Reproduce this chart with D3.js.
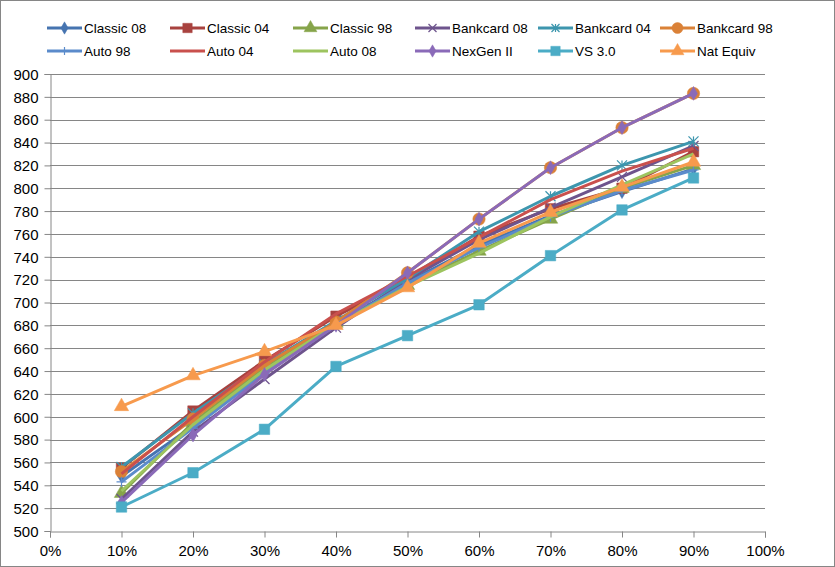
<!DOCTYPE html>
<html><head><meta charset="utf-8">
<script src="https://cdn.jsdelivr.net/npm/d3@7"></script>
<style>body{margin:0;background:#fff}svg{display:block}text{font-family:"Liberation Sans",Arial,sans-serif}</style>
</head><body><svg id="c" width="835" height="567"></svg>
<script>
const xValues = [0.1,0.2,0.3,0.4,0.5,0.6,0.7,0.8,0.9];
const xTicks = [0,0.1,0.2,0.3,0.4,0.5,0.6,0.7,0.8,0.9,1.0];
const yTicks = d3.range(500, 901, 20);
const seriesNames = ["Classic 08","Classic 04","Classic 98","Bankcard 08","Bankcard 04","Bankcard 98","Auto 98","Auto 04","Auto 08","NexGen II","VS 3.0","Nat Equiv"];
const classic08  = [548,592,640,681,718,750,776,797,817];
const classic04  = [555,605,649,688,720,758,782,800,832];
const classic98  = [533,595,643,682,715,745,773,800,820];
const bankcard08 = [528,587,633,678,720,755,783,810,837];
const bankcard04 = [556,603,646,684,721,762,793,820,841];
const bankcard98 = [552,598,645,683,726,773,818,853,883];
const auto98     = [543,590,638,680,717,748,775,798,816];
const auto04     = [550,600,648,690,723,757,790,815,835];
const auto08     = [535,593,641,681,714,743,775,803,830];
const nexgen2    = [525,584,637,680,726,773,818,853,883];
const vs30       = [521,551,589,644,671,698,741,781,809];
const natEquiv   = [609,636,657,680,713,752,779,801,823];
const seriesValues = [classic08,classic04,classic98,bankcard08,bankcard04,bankcard98,auto98,auto04,auto08,nexgen2,vs30,natEquiv];
const colors = ["#4674B0","#A8423F","#86A44A","#6E548D","#3D96AE","#DA8137","#5B8BCB","#C9504D","#9DC45F","#8A6AB8","#4BACC6","#F79A4D"];
const markers = ["diamond","square","triangle","x","asterisk","circle","plus","none","none","diamond","square","triangle"];

const svg = d3.select("#c");
const x = d3.scaleLinear().domain([0,1]).range([50,765]);
const y = d3.scaleLinear().domain([500,900]).range([531,74]);

svg.append("rect").attr("x",0.5).attr("y",0.5).attr("width",834).attr("height",566).attr("fill","#fff").attr("stroke","#868686");

svg.append("g").selectAll("line").data(yTicks.filter(d=>d>500)).join("line")
  .attr("x1",50).attr("x2",765).attr("y1",d=>Math.round(y(d))+0.5).attr("y2",d=>Math.round(y(d))+0.5)
  .attr("stroke","#868686").attr("stroke-width",1);

const yAxis = d3.axisLeft(y).tickValues(yTicks).tickSize(6).tickPadding(6).tickFormat(d3.format("d"));
const gy = svg.append("g").attr("transform","translate(50.5,0)").call(yAxis);
const xAxis = d3.axisBottom(x).tickValues(xTicks).tickSize(6).tickPadding(8).tickFormat(d3.format(".0%"));
const gx = svg.append("g").attr("transform","translate(0,531.5)").call(xAxis);
[gy,gx].forEach(g=>{
  g.select(".domain").attr("stroke","#868686");
  g.selectAll(".tick line").attr("stroke","#868686");
  g.selectAll("text").attr("font-size",15).attr("fill","#000").style("font-family",'"Liberation Sans",Arial,sans-serif');
});
gy.selectAll(".tick text").attr("dy","0.35em");

function drawMarker(g, type, color, cx, cy, s) {
  if (type==="none") return;
  const sym = {diamond:d3.symbolDiamond, square:d3.symbolSquare, triangle:d3.symbolTriangle, circle:d3.symbolCircle};
  if (sym[type]) {
    const size = {diamond:55, square:110, triangle:90, circle:120}[type]*s;
    g.append("path").attr("d", d3.symbol().type(sym[type]).size(size)()).attr("transform",`translate(${cx},${cy})`)
      .attr("fill",color).attr("stroke",color).attr("stroke-width",0.5);
  } else {
    const r = 5*s;
    const segs = [];
    if (type==="x"||type==="asterisk") segs.push([-r,-r,r,r],[-r,r,r,-r]);
    if (type==="plus"||type==="asterisk") segs.push([0,-r,0,r]);
    if (type==="plus") segs.push([-r,0,r,0]);
    segs.forEach(s2=>g.append("line").attr("x1",cx+s2[0]).attr("y1",cy+s2[1]).attr("x2",cx+s2[2]).attr("y2",cy+s2[3])
      .attr("stroke",color).attr("stroke-width",1.2));
  }
}

const line = d3.line().x((d,i)=>x(xValues[i])).y(d=>y(d));
const plot = svg.append("g");
seriesValues.forEach((vals,k)=>{
  const g = plot.append("g");
  g.append("path").datum(vals).attr("d",line).attr("fill","none").attr("stroke",colors[k]).attr("stroke-width",3).attr("stroke-linejoin","round");
  vals.forEach((v,i)=>drawMarker(g, markers[k], colors[k], x(xValues[i]), y(v), 1));
});

const legX = [47,170,293,415,538,660];
const legY = [28,51];
const leg = svg.append("g");
seriesNames.forEach((n,k)=>{
  const col = k%6, row = Math.floor(k/6);
  const lx = legX[col], ly = legY[row];
  const g = leg.append("g");
  g.append("line").attr("x1",lx).attr("x2",lx+35).attr("y1",ly).attr("y2",ly).attr("stroke",colors[k]).attr("stroke-width",3);
  drawMarker(g, markers[k], colors[k], lx+17.5, ly, 0.8);
  g.append("text").attr("x",lx+37).attr("y",ly).attr("dy","0.35em").attr("font-size",13.5).text(n);
});
</script></body></html>
